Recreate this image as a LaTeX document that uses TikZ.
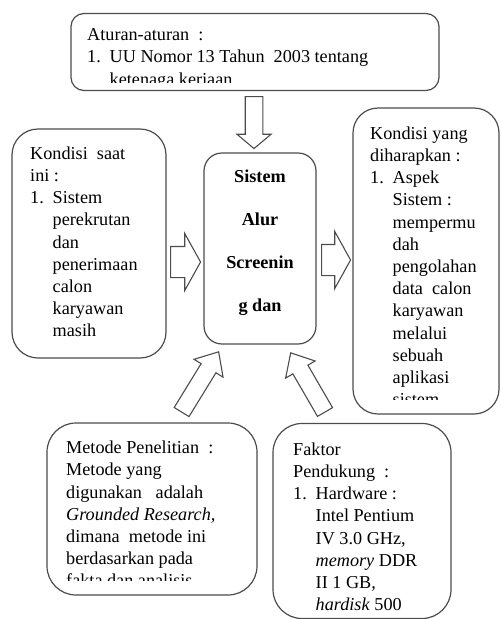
\documentclass[tikz,border=0pt]{standalone}
\usepackage{fontspec}
\setmainfont{Liberation Serif}
\usetikzlibrary{shapes.arrows}
\newcommand{\satu}{\makebox[22.5pt][l]{1.}}
\newcommand{\geser}{\hspace*{22.5pt}}
\tikzset{
  kotak/.style={draw=black!70, line width=1.2pt, rounded corners=#1, inner sep=0pt},
  isi/.style={anchor=north west, inner sep=0pt, align=left, font=\fontsize{18.2}{22.2}\selectfont},
  panah/.style n args={4}{single arrow, draw=black!70, line width=1.1pt, inner sep=0pt, anchor=tail,
    text height=#1, text depth=0pt, single arrow head extend=#2, minimum height=#3, single arrow tip angle=#4}
}
\begin{document}
\begin{tikzpicture}[x=1pt, y=-1pt]
\useasboundingbox (0,0) rectangle (501,619);
\node[kotak=13pt, minimum width=368pt, minimum height=77pt] (atur) at (255,52) {};
\node[kotak=26pt, minimum width=154pt, minimum height=229pt] (kini) at (89,243.5) {};
\node[kotak=18pt, minimum width=112pt, minimum height=191pt] (sistem) at (260,248.5) {};
\node[kotak=25pt, minimum width=146pt, minimum height=306pt] (harap) at (426,261) {};
\node[kotak=29pt, minimum width=210pt, minimum height=172pt] (metode) at (152,509) {};
\node[kotak=29pt, minimum width=178pt, minimum height=195pt] (faktor) at (362,521) {};
\begin{scope}
\clip (72,14) rectangle (438,82);
\node[isi] (aturteks) at (87,25) {\strut Aturan-aturan\ \ :\\ \satu UU Nomor 13 Tahun\ \ 2003 tentang\\ \geser ketenaga kerjaan};
\end{scope}
\node[isi] (kiniteks) at (30,143.5) {\strut Kondisi\ \ saat\\ ini :\\ \satu Sistem\\ \geser perekrutan\\ \geser dan\\ \geser penerimaan\\ \geser calon\\ \geser karyawan\\ \geser masih};
\node[isi, anchor=north, align=center, font=\fontsize{18.2}{22.2}\selectfont\bfseries] (sistemteks) at (260,166.5) {\strut Sistem\\[20.8pt] Alur\\[20.8pt] Screenin\\[20.8pt] g dan};
\begin{scope}
\clip (354,109) rectangle (498,399);
\node[isi] (harapteks) at (370,123.5) {\strut Kondisi\ yang\\ diharapkan :\\ \satu Aspek\\ \geser Sistem :\\ \geser mempermu\\ \geser dah\\ \geser pengolahan\\ \geser data\ \ calon\\ \geser karyawan\\ \geser melalui\\ \geser sebuah\\ \geser aplikasi\\ \geser sistem};
\end{scope}
\begin{scope}
\clip (48,423) rectangle (256,580);
\node[isi] (metodeteks) at (66,438) {\strut Metode Penelitian\ \ :\\ Metode yang\\ digunakan\ \ \ adalah\\ \textit{Grounded Research,}\\ dimana\ \ metode ini\\ berdasarkan pada\\ fakta dan analisis};
\end{scope}
\node[isi] (faktorteks) at (293,439.5) {\strut Faktor\\ Pendukung\ \ :\\ \satu Hardware :\\ \geser Intel\ Pentium\\ \geser IV 3.0 GHz,\\ \geser \textit{memory} DDR\\ \geser II 1 GB,\\ \geser \textit{hardisk} 500};
\node[panah={16.5pt}{8.25pt}{52pt}{100}, rotate=-90] (turun) at (254,96) {};
\node[panah={30pt}{13pt}{30pt}{122}] (kanan1) at (170,262) {};
\node[panah={30pt}{13pt}{29pt}{122}] (kanan2) at (321,260) {};
\node[panah={16.3pt}{8.35pt}{70.7pt}{83}, rotate=58.4] (serong1) at (181.3,412.5) {};
\node[panah={16.3pt}{8.35pt}{68.4pt}{83}, rotate=120.1] (serong2) at (325.3,412.5) {};
\end{tikzpicture}
\end{document}
